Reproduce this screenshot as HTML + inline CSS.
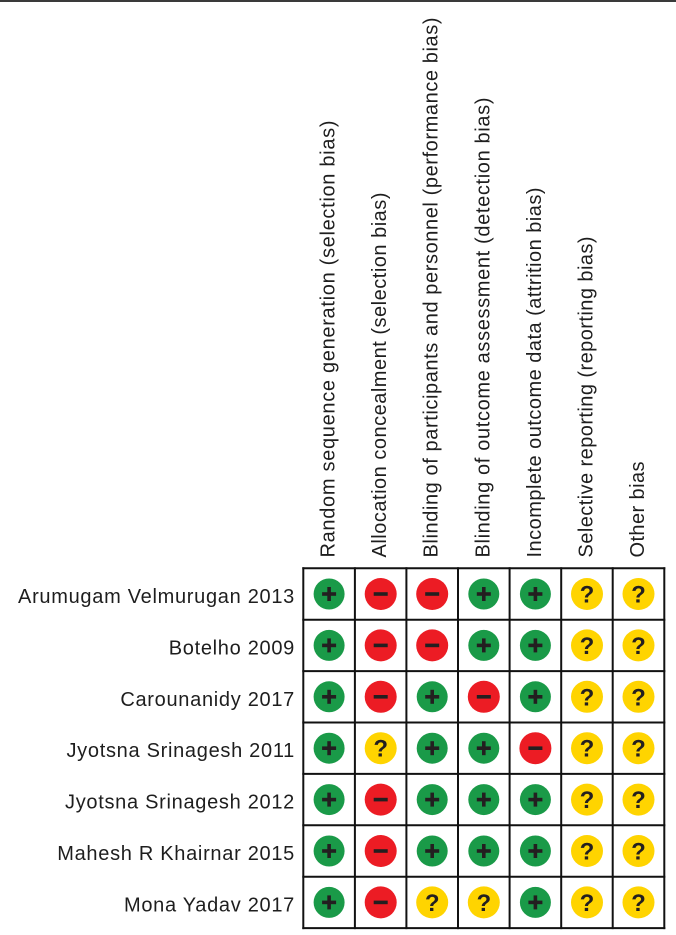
<!DOCTYPE html>
<html>
<head>
<meta charset="utf-8">
<style>
html,body{margin:0;padding:0;background:#fff;}
svg{display:block;}
text{font-family:"Liberation Sans",Arial,sans-serif;}
</style>
</head>
<body>
<svg width="676" height="935" viewBox="0 0 676 935" xmlns="http://www.w3.org/2000/svg">
<rect x="0" y="0" width="676" height="935" fill="#fff"/>
<rect x="0" y="0" width="676" height="2" fill="#3a3a3a"/>

<!-- Column headers -->
<g font-size="20" fill="#1e1e1e">
<text transform="translate(334.6,557.5) rotate(-90)" textLength="437" lengthAdjust="spacing">Random sequence generation (selection bias)</text>
<text transform="translate(386.2,557.5) rotate(-90)" textLength="365" lengthAdjust="spacing">Allocation concealment (selection bias)</text>
<text transform="translate(437.7,557.5) rotate(-90)" textLength="540" lengthAdjust="spacing">Blinding of participants and personnel (performance bias)</text>
<text transform="translate(489.3,557.5) rotate(-90)" textLength="460" lengthAdjust="spacing">Blinding of outcome assessment (detection bias)</text>
<text transform="translate(540.9,557.5) rotate(-90)" textLength="370" lengthAdjust="spacing">Incomplete outcome data (attrition bias)</text>
<text transform="translate(592.5,557.5) rotate(-90)" textLength="321" lengthAdjust="spacing">Selective reporting (reporting bias)</text>
<text transform="translate(644.0,557.5) rotate(-90)" textLength="96" lengthAdjust="spacing">Other bias</text>
</g>

<!-- Row labels -->
<g font-size="20" fill="#1e1e1e" letter-spacing="0.7" text-anchor="end">
<text x="295" y="603">Arumugam Velmurugan 2013</text>
<text x="295" y="654.4">Botelho 2009</text>
<text x="295" y="705.8">Carounanidy 2017</text>
<text x="295" y="757.2">Jyotsna Srinagesh 2011</text>
<text x="295" y="808.6">Jyotsna Srinagesh 2012</text>
<text x="295" y="860">Mahesh R Khairnar 2015</text>
<text x="295" y="911.4">Mona Yadav 2017</text>
</g>

<!-- Symbols -->
<defs>
<g id="p">
<circle r="15.5" fill="#1a9a48"/>
<rect x="-7" y="-1.8" width="14" height="3.6" fill="#231f20"/>
<rect x="-1.8" y="-7" width="3.6" height="14" fill="#231f20"/>
</g>
<g id="m">
<circle r="16" fill="#ec1c24"/>
<rect x="-7" y="-1.8" width="14" height="3.6" fill="#231f20"/>
</g>
<g id="q">
<circle r="16" fill="#ffd400"/>
<text x="0" y="8.5" text-anchor="middle" font-size="24" font-weight="bold" fill="#231f20">?</text>
</g>
</defs>

<!-- Row 1 -->
<use href="#p" x="329.1" y="594.0"/>
<use href="#m" x="380.7" y="594.0"/>
<use href="#m" x="432.2" y="594.0"/>
<use href="#p" x="483.8" y="594.0"/>
<use href="#p" x="535.4" y="594.0"/>
<use href="#q" x="587.0" y="594.0"/>
<use href="#q" x="638.5" y="594.0"/>
<!-- Row 2 -->
<use href="#p" x="329.1" y="645.4"/>
<use href="#m" x="380.7" y="645.4"/>
<use href="#m" x="432.2" y="645.4"/>
<use href="#p" x="483.8" y="645.4"/>
<use href="#p" x="535.4" y="645.4"/>
<use href="#q" x="587.0" y="645.4"/>
<use href="#q" x="638.5" y="645.4"/>
<!-- Row 3 -->
<use href="#p" x="329.1" y="696.8"/>
<use href="#m" x="380.7" y="696.8"/>
<use href="#p" x="432.2" y="696.8"/>
<use href="#m" x="483.8" y="696.8"/>
<use href="#p" x="535.4" y="696.8"/>
<use href="#q" x="587.0" y="696.8"/>
<use href="#q" x="638.5" y="696.8"/>
<!-- Row 4 -->
<use href="#p" x="329.1" y="748.2"/>
<use href="#q" x="380.7" y="748.2"/>
<use href="#p" x="432.2" y="748.2"/>
<use href="#p" x="483.8" y="748.2"/>
<use href="#m" x="535.4" y="748.2"/>
<use href="#q" x="587.0" y="748.2"/>
<use href="#q" x="638.5" y="748.2"/>
<!-- Row 5 -->
<use href="#p" x="329.1" y="799.6"/>
<use href="#m" x="380.7" y="799.6"/>
<use href="#p" x="432.2" y="799.6"/>
<use href="#p" x="483.8" y="799.6"/>
<use href="#p" x="535.4" y="799.6"/>
<use href="#q" x="587.0" y="799.6"/>
<use href="#q" x="638.5" y="799.6"/>
<!-- Row 6 -->
<use href="#p" x="329.1" y="851.0"/>
<use href="#m" x="380.7" y="851.0"/>
<use href="#p" x="432.2" y="851.0"/>
<use href="#p" x="483.8" y="851.0"/>
<use href="#p" x="535.4" y="851.0"/>
<use href="#q" x="587.0" y="851.0"/>
<use href="#q" x="638.5" y="851.0"/>
<!-- Row 7 -->
<use href="#p" x="329.1" y="902.4"/>
<use href="#m" x="380.7" y="902.4"/>
<use href="#q" x="432.2" y="902.4"/>
<use href="#q" x="483.8" y="902.4"/>
<use href="#p" x="535.4" y="902.4"/>
<use href="#q" x="587.0" y="902.4"/>
<use href="#q" x="638.5" y="902.4"/>

<!-- Grid -->
<g stroke="#111" stroke-width="2" fill="none">
<line x1="303.3" y1="567.3" x2="303.3" y2="929.1"/>
<line x1="354.9" y1="567.3" x2="354.9" y2="929.1"/>
<line x1="406.4" y1="567.3" x2="406.4" y2="929.1"/>
<line x1="458.0" y1="567.3" x2="458.0" y2="929.1"/>
<line x1="509.6" y1="567.3" x2="509.6" y2="929.1"/>
<line x1="561.2" y1="567.3" x2="561.2" y2="929.1"/>
<line x1="612.7" y1="567.3" x2="612.7" y2="929.1"/>
<line x1="664.3" y1="567.3" x2="664.3" y2="929.1"/>
<line x1="302.3" y1="568.3" x2="665.3" y2="568.3"/>
<line x1="302.3" y1="619.7" x2="665.3" y2="619.7"/>
<line x1="302.3" y1="671.1" x2="665.3" y2="671.1"/>
<line x1="302.3" y1="722.5" x2="665.3" y2="722.5"/>
<line x1="302.3" y1="773.9" x2="665.3" y2="773.9"/>
<line x1="302.3" y1="825.3" x2="665.3" y2="825.3"/>
<line x1="302.3" y1="876.7" x2="665.3" y2="876.7"/>
<line x1="302.3" y1="928.1" x2="665.3" y2="928.1"/>
</g>
</svg>
</body>
</html>
